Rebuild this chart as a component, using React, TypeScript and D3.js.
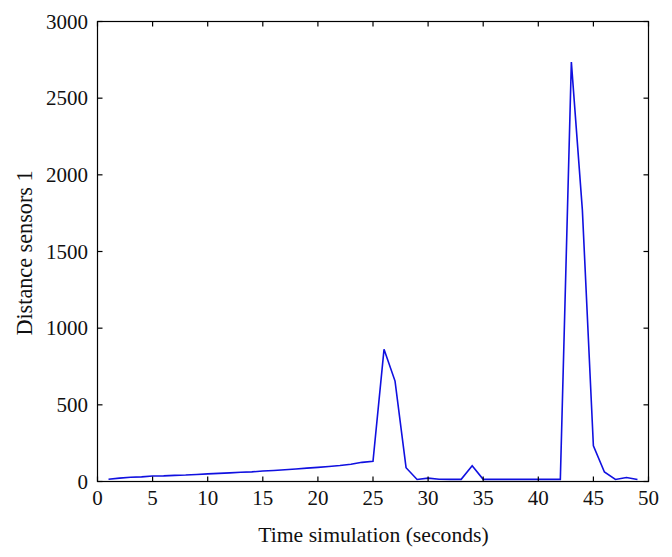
import React from "react";
import * as d3 from "d3";

const timeSeconds: number[] = [
  1, 2, 3, 4, 5, 6, 7, 8, 9, 10, 11, 12, 13, 14, 15, 16, 17, 18, 19, 20, 21, 22, 23, 24, 25,
  26, 27, 28, 29, 30, 31, 32, 33, 34, 35, 36, 37, 38, 39, 40, 41, 42, 43, 44, 45, 46, 47, 48, 49,
];
const distanceSensor1: number[] = [
  15, 22, 28, 30, 36, 37, 40, 42, 46, 50, 53, 56, 60, 63, 68, 72, 77, 82, 87, 92, 98, 104, 112, 125, 132,
  862, 655, 90, 13, 22, 15, 14, 14, 102, 14, 14, 14, 14, 14, 14, 14, 14, 2735, 1770, 232, 62, 13, 26, 13,
];
const xTicks: number[] = [0, 5, 10, 15, 20, 25, 30, 35, 40, 45, 50];
const yTicks: number[] = [0, 500, 1000, 1500, 2000, 2500, 3000];
const xLabel = "Time simulation (seconds)";
const yLabel = "Distance sensors 1";

export default function App() {
  const W = 672;
  const H = 557;
  const left = 97.5;
  const right = 648.5;
  const top = 21.5;
  const bottom = 481.5;
  const x = d3.scaleLinear().domain([0, 50]).range([left, right]);
  const y = d3.scaleLinear().domain([0, 3000]).range([bottom, top]);
  const line = d3
    .line<number>()
    .x((_, i) => x(timeSeconds[i]))
    .y((d) => y(d));
  const font = "'Liberation Serif', 'Times New Roman', serif";
  const tl = 5;
  return (
    <svg
      width={W}
      height={H}
      style={{ position: "absolute", left: 0, top: 0, background: "#fff" }}
      fontFamily={font}
    >
      <rect x={0} y={0} width={W} height={H} fill="#fff" />
      <path d={line(distanceSensor1) || ""} fill="none" stroke="#1010e0" strokeWidth={1.6} strokeLinejoin="miter" />
      <rect x={left} y={top} width={right - left} height={bottom - top} fill="none" stroke="#000" strokeWidth={1.2} />
      {xTicks.map((t) => (
        <g key={"x" + t}>
          <line x1={x(t)} x2={x(t)} y1={bottom} y2={bottom - tl} stroke="#000" strokeWidth={1.2} />
          <line x1={x(t)} x2={x(t)} y1={top} y2={top + tl} stroke="#000" strokeWidth={1.2} />
          <text x={x(t)} y={505} textAnchor="middle" fontSize={21} fill="#111">
            {t}
          </text>
        </g>
      ))}
      {yTicks.map((t) => (
        <g key={"y" + t}>
          <line x1={left} x2={left + tl} y1={y(t)} y2={y(t)} stroke="#000" strokeWidth={1.2} />
          <line x1={right} x2={right - tl} y1={y(t)} y2={y(t)} stroke="#000" strokeWidth={1.2} />
          <text x={88} y={y(t) + 7} textAnchor="end" fontSize={21} fill="#111">
            {t}
          </text>
        </g>
      ))}
      <text x={(left + right) / 2 + 0.5} y={542} textAnchor="middle" fontSize={21.7} fill="#111">
        {xLabel}
      </text>
      <text
        transform={`translate(32, 253) rotate(-90)`}
        textAnchor="middle"
        fontSize={22.2}
        fill="#111"
      >
        {yLabel}
      </text>
    </svg>
  );
}
